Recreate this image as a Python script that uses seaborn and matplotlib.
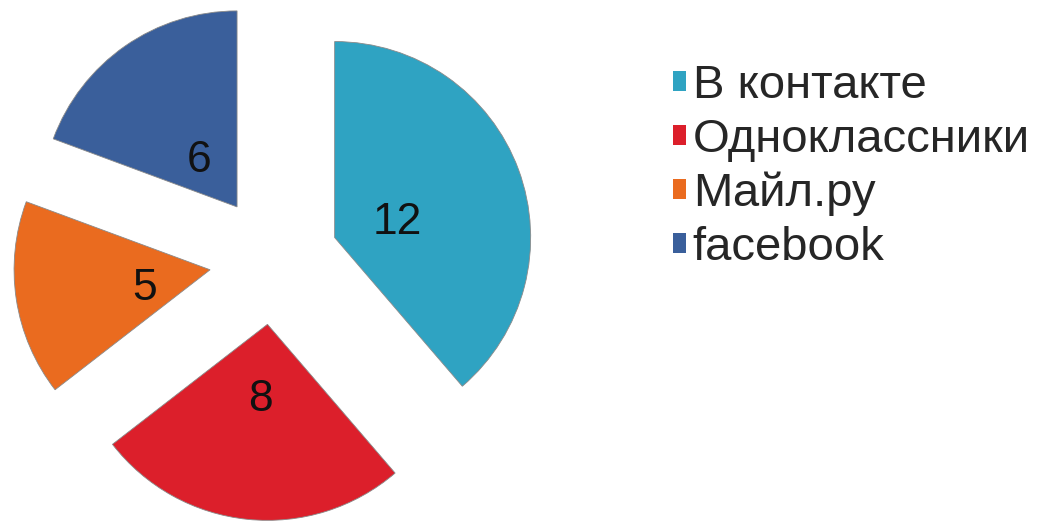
import matplotlib
matplotlib.use("Agg")
import matplotlib.pyplot as plt
import seaborn as sns

# data
sites = ["В контакте", "Одноклассники", "Майл.ру", "facebook"]
users = [12, 8, 5, 6]
colors = ["#2FA3C2", "#DC1F2B", "#EA6B1F", "#3A5F9B"]

sns.set_theme(style="white")
plt.rcParams['font.family'] = ['Liberation Sans', 'DejaVu Sans']

W, H = 1039, 521
fig = plt.figure(figsize=(W / 100, H / 100), dpi=100)

# pie axes placed in pixels: centre ~ (274, 260) from top, radius ~196 px
r_px = 196
lim = 1.5
size = 2 * lim * r_px
cx, cy = 274, H - 260
ax = fig.add_axes([(cx - size / 2) / W, (cy - size / 2) / H, size / W, size / H])

wedges, texts, autotexts = ax.pie(
    users, colors=colors, startangle=90, counterclock=False,
    explode=[0.33] * len(users), radius=1,
    autopct=lambda p: "%d" % round(p * sum(users) / 100),
    pctdistance=0.34,
    wedgeprops=dict(edgecolor="#8a8a8a", linewidth=0.6),
    textprops=dict(fontsize=32, color="#111111"))
for t in autotexts:
    t.set_va("center_baseline")
    x, y = t.get_position()
    t.set_position((x, y - 0.02))
ax.set_xlim(-lim, lim)
ax.set_ylim(-lim, lim)
ax.set_aspect("equal")
ax.axis("off")

leg = fig.legend(wedges, sites, loc="upper left",
                 bbox_to_anchor=(673 / W, 1 - 64 / H),
                 frameon=False, fontsize=34,
                 handlelength=0.27, handleheight=0.27, handletextpad=0.15,
                 labelspacing=0.21, borderpad=0, borderaxespad=0)
for h in leg.legend_handles:
    h.set_edgecolor("none")

fig.savefig("out.png", dpi=100)
